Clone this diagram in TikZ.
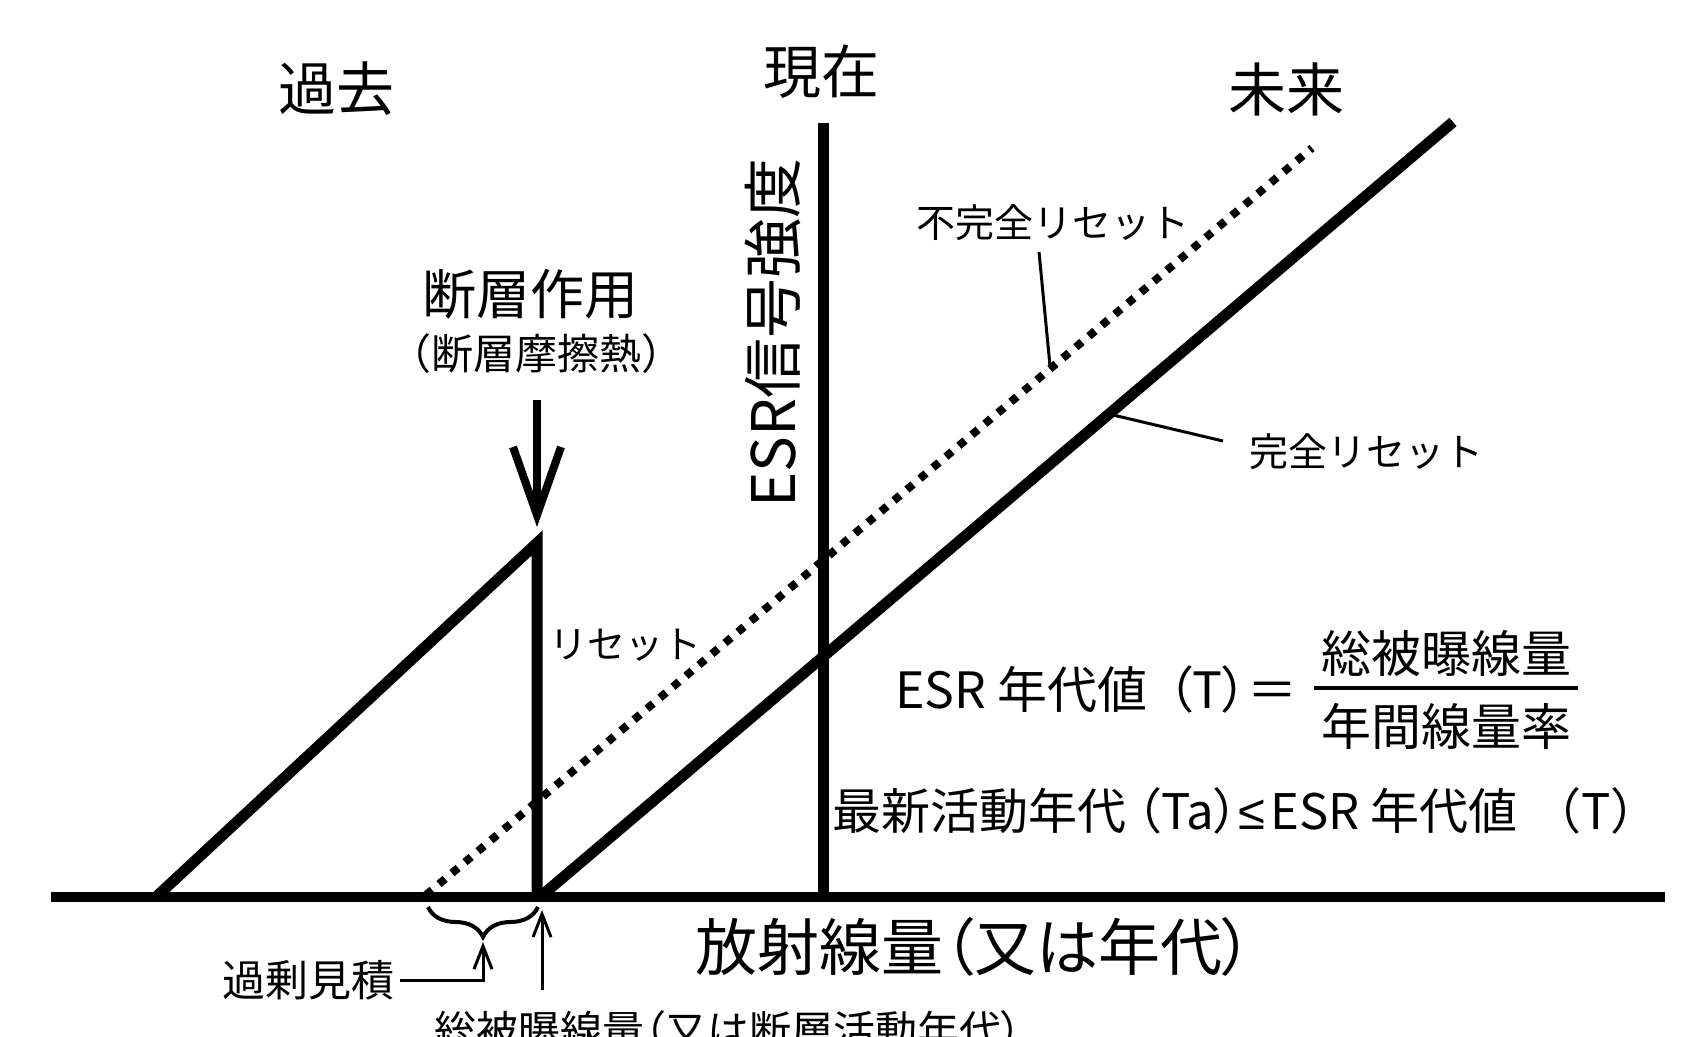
\documentclass[tikz,border=0pt]{standalone}
\usepackage{fontspec}
\setmainfont{Noto Sans CJK JP}
\newfontfamily\jpp[RawFeature=+palt]{Noto Sans CJK JP}
\newfontfamily\lsans{Liberation Sans}
\usetikzlibrary{arrows.meta,decorations.pathreplacing}
\newcommand\myfs[1]{\fontsize{#1}{#1}\selectfont}
\begin{document}
\begin{tikzpicture}[x=0.5pt,y=-0.5pt,
  lbl/.style={inner sep=0pt},
  heavy/.style={line width=5.5pt, line join=miter},
  leader/.style={line width=1.5pt},
  smallarr/.style={line width=1.5pt,-{Straight Barb[length=11.5pt,width=9pt]}},
]
\useasboundingbox (0,0) rectangle (1706,1037);
\fill[white] (0,0) rectangle (1706,1037);

% key points
\coordinate (b0) at (51,897);
\coordinate (b1) at (1665,897);
\coordinate (r0) at (156,897);
\coordinate (peak) at (537,543);
\coordinate (foot) at (537,897);
\coordinate (s0) at (540,897);
\coordinate (s1) at (1453,122);
\coordinate (d0) at (426,895);
\coordinate (d1) at (1312,148);
\coordinate (a0) at (823,123);
\coordinate (a1) at (823,897);

% axes and curves
\draw[line width=5pt] (b0) -- (b1);
\draw[heavy] (r0) -- (peak) -- (foot);
\draw[heavy] (s0) -- (s1);
\draw[line width=4pt, dash pattern=on 4pt off 4.5pt] (d0) -- (d1);
\draw[heavy] (a0) -- (a1);

% titles
\node[lbl,font=\myfs{29pt}] (past) at (336,89) {過去};
\node[lbl,font=\myfs{29pt}] (now) at (821,72) {現在};
\node[lbl,font=\myfs{29pt}] (future) at (1286,89) {未来};
\node[lbl,font=\myfs{30pt},rotate=90] (esr) at (773,333) {ESR信号強度};

% fault action
\node[lbl,font=\myfs{27pt}] (fault) at (530,294) {断層作用};
\node[lbl,font=\myfs{21pt}] (heat) at (536,354) {（断層摩擦熱）};
\coordinate (fa0) at (537,400);
\coordinate (fa1) at (537,527);
\draw[line width=4pt,-{Straight Barb[length=34pt,width=24pt]}] (fa0) -- (fa1);

\node[lbl,font=\myfs{19pt}] (reset) at (625,645) {リセット};

% reset labels
\node[lbl,font=\myfs{19.5pt}] (incomp) at (1053,223) {不完全リセット};
\coordinate (li0) at (1039,252);
\coordinate (li1) at (1050,366);
\draw[leader] (li0) -- (li1);
\node[lbl,font=\myfs{19.5pt}] (comp) at (1366,452) {完全リセット};
\coordinate (lc0) at (1223,441);
\coordinate (lc1) at (1113,415);
\draw[leader] (lc0) -- (lc1);

% formula
\node[lbl,font=\myfs{25pt},anchor=east] (f1) at (1298,689) {ESR 年代値\hspace{0.4em}{\jpp（}T{\jpp）}＝};
\node[lbl,font=\myfs{25pt}] (num) at (1446,654) {総被曝線量};
\node[lbl,font=\myfs{25pt}] (den) at (1446,726) {年間線量率};
\coordinate (bar0) at (1314,688);
\coordinate (bar1) at (1578,688);
\draw[line width=2.2pt] (bar0) -- (bar1);
\node[lbl,font=\myfs{24.5pt},anchor=east] (f2) at (1660,811) {最新活動年代\hspace{0.2em}{\jpp（}Ta{\jpp）}{\lsans ≤}\hspace{0.1em}ESR 年代値\hspace{0.3em}（T）};

% x axis label
\node[lbl,font=\myfs{31pt}] (xlab) at (974,947) {放射線量{\jpp（}又は年代{\jpp）}};

% overestimate brace
\coordinate (br0) at (428,907);
\coordinate (br1) at (538,907);
\draw[line width=2pt, decorate, decoration={brace,mirror,amplitude=15pt}] (br0) -- (br1);
\coordinate (btip) at (483,942);
\node[lbl,font=\myfs{21.5pt}] (kajo) at (308,980) {過剰見積};
\draw[smallarr] ([xshift=3pt]kajo.east) -| (btip);

% total dose arrow
\coordinate (t0) at (542,990);
\coordinate (t1) at (542,910);
\draw[smallarr] (t0) -- (t1);
\node[lbl,font=\myfs{21pt}] (tot) at (728,1031) {総被曝線量{\jpp（}又は断層活動年代{\jpp）}};
\end{tikzpicture}
\end{document}
